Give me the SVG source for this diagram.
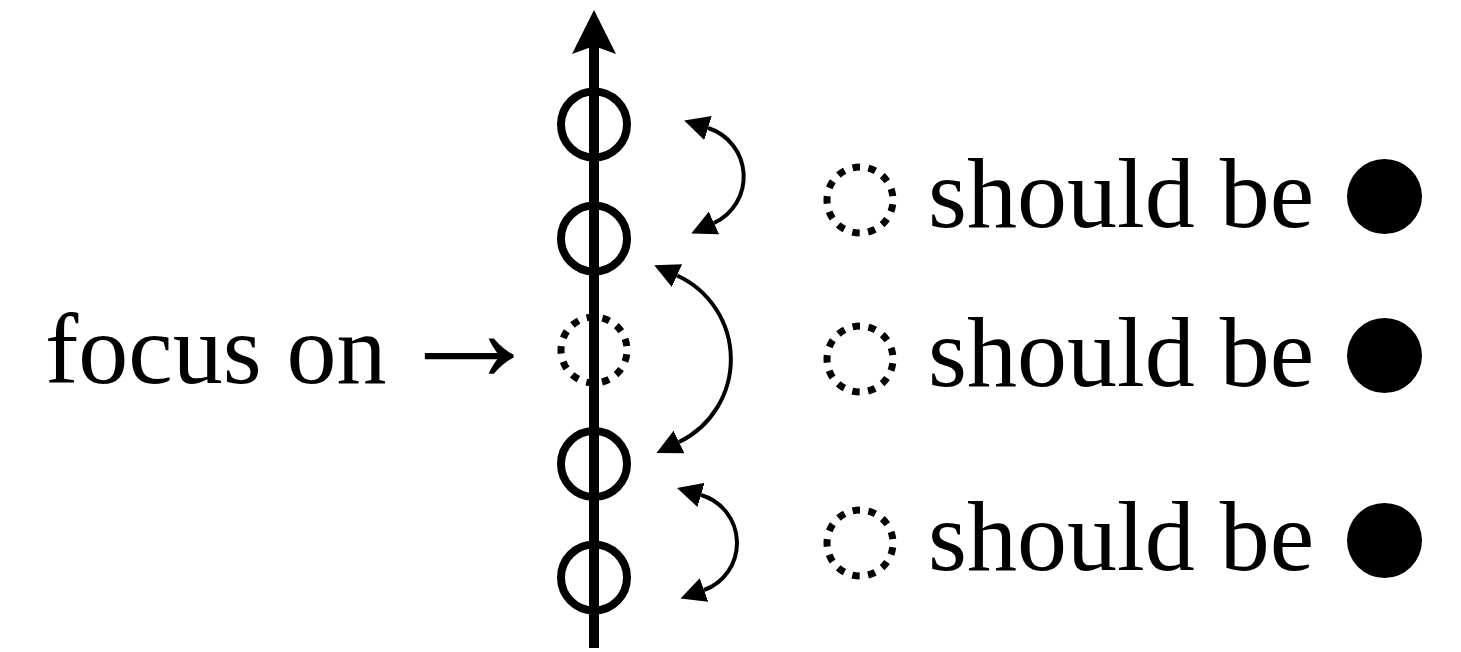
<svg xmlns="http://www.w3.org/2000/svg" width="1461" height="652" viewBox="0 0 1461 652">
  <style>
    .txt { font-family: "Liberation Serif", "Times New Roman", serif; font-size: 100px; fill: #000; }
    .big-arrow { font-size: 150px; }
    .ring { fill: none; stroke: #000; stroke-width: 8; }
    .dotted { fill: none; stroke: #000; stroke-width: 7; stroke-dasharray: 7.5 8.45; stroke-dashoffset: 11.72; }
    .swap { fill: none; stroke: #000; stroke-width: 4; marker-start: url(#head); marker-end: url(#head); }
    .dot { fill: #000; }
  </style>
  <defs>
    <marker id="head" markerUnits="userSpaceOnUse" viewBox="0 0 25 25" markerWidth="25" markerHeight="25" refX="0" refY="12.5" orient="auto-start-reverse">
      <path d="M0,0 L25,12.5 L0,25 Z" fill="#000"/>
    </marker>
  </defs>
  <rect width="1461" height="652" fill="#fff"/>

  <!-- vertical axis with arrowhead -->
  <g id="axis">
    <line x1="594" y1="46" x2="594" y2="648" stroke="#000" stroke-width="10"/>
    <polygon points="594,10 572,54 594,46 616,54" fill="#000"/>
  </g>

  <!-- nodes along the axis -->
  <g id="node1"><circle class="ring" cx="594" cy="124.5" r="33"/></g>
  <g id="node2"><circle class="ring" cx="594" cy="238.5" r="33"/></g>
  <g id="node3"><circle class="dotted" cx="594" cy="350" r="33"/></g>
  <g id="node4"><circle class="ring" cx="594" cy="464" r="33"/></g>
  <g id="node5"><circle class="ring" cx="594" cy="577.5" r="33"/></g>

  <!-- curved two-way connectors -->
  <g id="connectors">
    <path class="swap" d="M708,128 A51,51 0 0 1 714,223"/>
    <path class="swap" d="M677,275.5 A92,92 0 0 1 679,442"/>
    <path class="swap" d="M701,495 A50,50 0 0 1 704,590"/>
  </g>

  <!-- label on the left -->
  <g id="focus-label">
    <text class="txt" x="45" y="383">focus on <tspan class="big-arrow" x="394" y="381">→</tspan></text>
  </g>

  <!-- legend rows -->
  <g id="row1">
    <circle class="dotted" cx="860" cy="200" r="33"/>
    <text class="txt" x="928" y="227">should be</text>
    <circle class="dot" cx="1384.5" cy="196.5" r="37.5"/>
  </g>
  <g id="row2">
    <circle class="dotted" cx="860" cy="359" r="33"/>
    <text class="txt" x="928" y="386">should be</text>
    <circle class="dot" cx="1384.5" cy="355.5" r="37.5"/>
  </g>
  <g id="row3">
    <circle class="dotted" cx="860" cy="543" r="33"/>
    <text class="txt" x="928" y="570">should be</text>
    <circle class="dot" cx="1384.5" cy="540.5" r="37.5"/>
  </g>
</svg>
